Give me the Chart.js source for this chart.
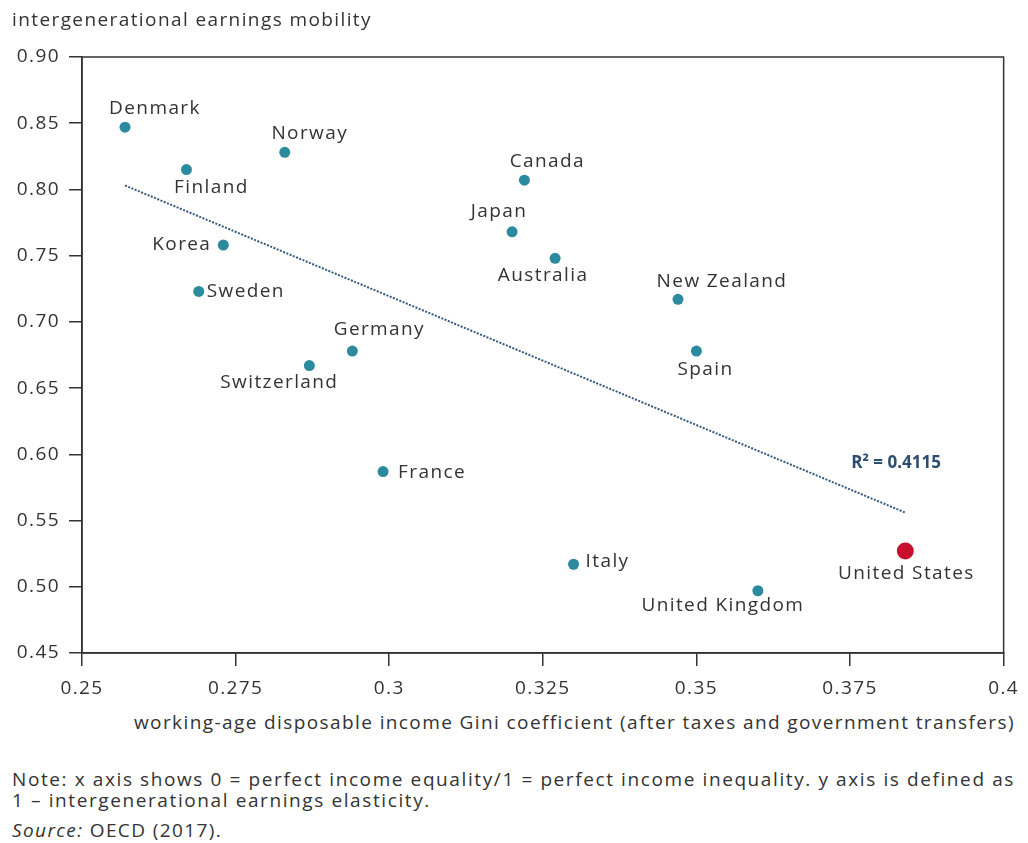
<!DOCTYPE html>
<html>
<head>
<meta charset="utf-8">
<script src="https://cdn.jsdelivr.net/npm/chart.js@4.4.1/dist/chart.umd.min.js"></script>
<style>
  body { margin: 0; background: #fff; font-family: "Open Sans", sans-serif; color: #333; }
  #wrap { position: relative; width: 1028px; height: 843px; }
  canvas { position: absolute; left: 0; top: 0; }
  .txt { position: absolute; font-size: 19px; white-space: nowrap; line-height: 20px; letter-spacing: 1.4px; }
</style>
</head>
<body>
<div id="wrap">
  <canvas id="c" width="1028" height="700"></canvas>
  <div class="txt" style="left:12px; top:9px;">intergenerational earnings mobility</div>
  <div class="txt" style="left:134px; top:712px;">working-age disposable income Gini coefficient (after taxes and government transfers)</div>
  <div class="txt" style="left:12px; top:769px; letter-spacing:1.6px;">Note: x axis shows 0 = perfect income equality/1 = perfect income inequality. y axis is defined as</div>
  <div class="txt" style="left:12px; top:790px; letter-spacing:1.6px;">1 – intergenerational earnings elasticity.</div>
  <div class="txt" style="left:12px; top:820px;"><i>Source:</i> OECD (2017).</div>
</div>
<script>
// data
const countries = ["Denmark", "Finland", "Norway", "Korea", "Sweden", "Germany", "Switzerland", "France",
  "Canada", "Japan", "Australia", "New Zealand", "Spain", "Italy", "United Kingdom", "United States"];
const gini = [0.257, 0.267, 0.283, 0.273, 0.269, 0.294, 0.287, 0.299,
  0.322, 0.320, 0.327, 0.347, 0.350, 0.330, 0.360, 0.384];
const mobility = [0.847, 0.815, 0.828, 0.758, 0.723, 0.678, 0.667, 0.587,
  0.807, 0.768, 0.748, 0.717, 0.678, 0.517, 0.497, 0.527];

const trendX = [0.257, 0.384];
const trendY = [0.803, 0.556];
const r2Label = "R² = 0.4115";

const xTicks = [0.25, 0.275, 0.3, 0.325, 0.35, 0.375, 0.4];

// label placement: [textAlign, dx, dy] in px from the point
const labelPos = [
  ["center", 30, -19], ["center", 25, 18], ["center", 25, -19], ["right", -12, 0],
  ["left", 8, 0], ["center", 27, -21], ["center", -30, 17], ["left", 15, 1],
  ["center", 23, -19], ["center", -13, -20], ["center", -12, 17], ["center", 44, -18],
  ["center", 9, 19], ["left", 12, -3], ["center", -35, 15], ["center", 1, 23]
];

const teal = "#2b8a9e";
const red = "#c8102e";
const spacing = "1.4px";

const pointData = gini.map((g, i) => ({ x: g, y: mobility[i] }));
const trendData = trendX.map((x, i) => ({ x: x, y: trendY[i] }));

const boxPlugin = {
  id: "box",
  beforeDraw(chart) {
    chart.ctx.letterSpacing = spacing;
  },
  beforeDatasetsDraw(chart) {
    const { ctx, chartArea: a } = chart;
    ctx.save();
    ctx.strokeStyle = "#333";
    ctx.lineWidth = 1.5;
    ctx.strokeRect(a.left, a.top, a.right - a.left, a.bottom - a.top);
    ctx.restore();
  }
};

const labelPlugin = {
  id: "labels",
  afterDatasetsDraw(chart) {
    const ctx = chart.ctx;
    const meta = chart.getDatasetMeta(0);
    ctx.save();
    ctx.letterSpacing = spacing;
    ctx.font = '19px "Open Sans"';
    ctx.fillStyle = "#333";
    ctx.textBaseline = "middle";
    meta.data.forEach((pt, i) => {
      const [align, dx, dy] = labelPos[i];
      ctx.textAlign = align;
      ctx.fillText(countries[i], pt.x + dx, pt.y + dy);
    });
    // R squared
    const xs = chart.scales.x, ys = chart.scales.y;
    ctx.letterSpacing = "0px";
    ctx.font = 'bold 17px "Liberation Sans Narrow", "Open Sans"';
    ctx.fillStyle = "#2d4d70";
    ctx.textAlign = "center";
    ctx.fillText(r2Label, xs.getPixelForValue(0.3825), ys.getPixelForValue(0.5935));
    ctx.restore();
  }
};

new Chart(document.getElementById("c"), {
  type: "scatter",
  data: {
    datasets: [
      {
        data: pointData,
        pointBackgroundColor: countries.map(c => c === "United States" ? red : teal),
        pointBorderWidth: 0,
        pointRadius: countries.map(c => c === "United States" ? 8.5 : 5.5),
      },
      {
        data: trendData,
        showLine: true,
        borderColor: "#36597d",
        borderWidth: 2,
        borderDash: [2, 1.5],
        pointRadius: 0,
      }
    ]
  },
  options: {
    responsive: false,
    animation: false,
    layout: { padding: { top: 57, right: 22, left: 0, bottom: 0 } },
    plugins: { legend: { display: false }, tooltip: { enabled: false } },
    scales: {
      x: {
        type: "linear",
        min: 0.25,
        max: 0.4,
        afterBuildTicks: (s) => { s.ticks = xTicks.map(v => ({ value: v })); },
        afterFit: (s) => { s.height = 700 - 653; },
        ticks: {
          color: "#333",
          font: { family: "Open Sans", size: 19 },
          padding: 11,
          maxRotation: 0,
          autoSkip: false,
          callback: (v) => String(parseFloat(v.toFixed(3))),
        },
        grid: { drawOnChartArea: false, drawTicks: true, tickLength: 13, color: "#333", lineWidth: 1.5 },
        border: { display: true, color: "#333", width: 1.5 },
      },
      y: {
        type: "linear",
        min: 0.45,
        max: 0.9,
        afterFit: (s) => { s.width = 82; },
        ticks: {
          stepSize: 0.05,
          color: "#333",
          font: { family: "Open Sans", size: 19 },
          padding: 9,
          callback: (v) => v.toFixed(2),
        },
        grid: { drawOnChartArea: false, drawTicks: true, tickLength: 13, color: "#333", lineWidth: 1.5 },
        border: { display: true, color: "#333", width: 1.5 },
      }
    }
  },
  plugins: [boxPlugin, labelPlugin]
});
</script>
</body>
</html>
